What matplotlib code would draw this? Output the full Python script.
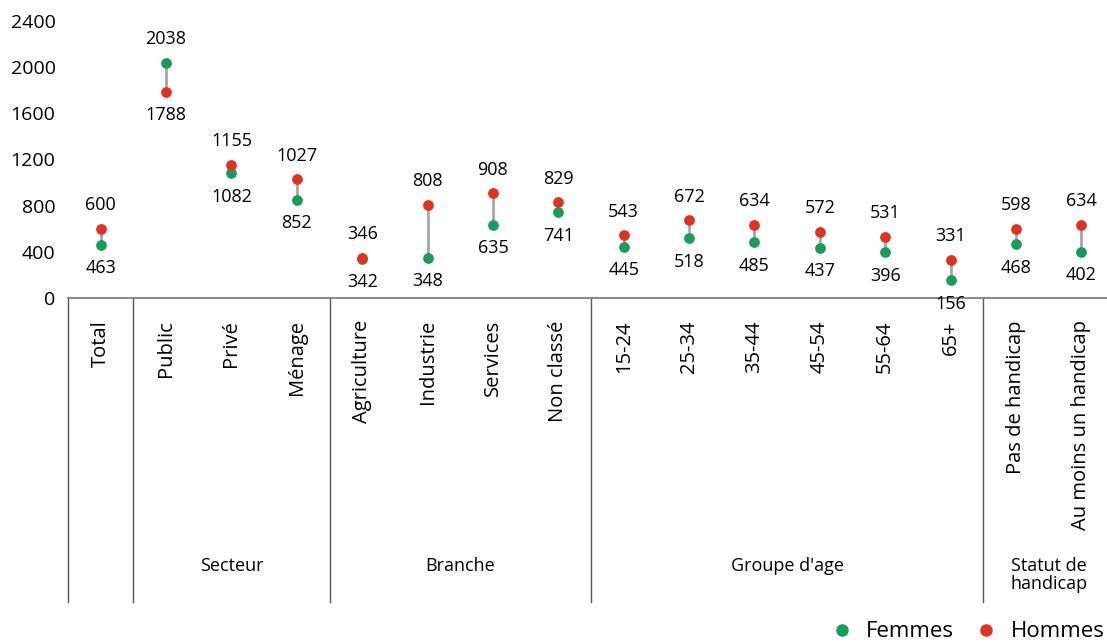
import matplotlib.pyplot as plt
import matplotlib.transforms as mtransforms
from matplotlib.lines import Line2D

plt.rcParams['font.family'] = ['Open Sans', 'DejaVu Sans']

categories = ['Total', 'Public', 'Privé', 'Ménage', 'Agriculture', 'Industrie',
              'Services', 'Non classé', '15-24', '25-34', '35-44', '45-54',
              '55-64', '65+', 'Pas de handicap', 'Au moins un handicap']
femmes = [463, 2038, 1082, 852, 342, 348, 635, 741, 445, 518, 485, 437, 396, 156, 468, 402]
hommes = [600, 1788, 1155, 1027, 346, 808, 908, 829, 543, 672, 634, 572, 531, 331, 598, 634]

groups = ['', 'Secteur', 'Branche', "Groupe d'age", 'Statut de\nhandicap']
group_sizes = [1, 3, 4, 6, 2]

green = '#1a9b5b'
red = '#e03222'

W, H = 1107, 643
fig = plt.figure(figsize=(W / 100, H / 100), dpi=100)
left, right, bottom, top = 68, 1114, 298, 21
ax = fig.add_axes([left / W, (H - bottom) / H, (right - left) / W, (bottom - top) / H])

x = list(range(len(categories)))
for i in x:
    ax.plot([i, i], [femmes[i], hommes[i]], color='#a6a6a6', lw=2, zorder=1)
ax.scatter(x, femmes, s=60, color=green, zorder=3, linewidths=0)
ax.scatter(x, hommes, s=60, color=red, zorder=3, linewidths=0)

# higher value labelled above, lower value below
for i in x:
    f, h = femmes[i], hommes[i]
    hi, lo = (f, h) if f > h else (h, f)
    ax.annotate(str(hi), (i, hi), xytext=(0, 17), textcoords='offset points',
                ha='center', va='center', fontsize=13)
    ax.annotate(str(lo), (i, lo), xytext=(0, -17), textcoords='offset points',
                ha='center', va='center', fontsize=13)

ax.set_xlim(-0.5, len(categories) - 0.5)
ax.set_ylim(0, 2400)
ax.set_yticks(range(0, 2401, 400))
ax.set_xticks(x)
ax.set_xticklabels(categories, rotation=90, fontsize=14.5)
ax.tick_params(axis='x', length=0, pad=16)
ax.tick_params(axis='y', length=0, pad=9, labelsize=14)

for s in ['top', 'right', 'left']:
    ax.spines[s].set_visible(False)
ax.spines['bottom'].set_color('#8c8c8c')
ax.spines['bottom'].set_linewidth(1.5)

trans = mtransforms.blended_transform_factory(ax.transData, ax.transAxes)
depth = -(602 - bottom) / (bottom - top)
pos = -0.5
edges = [pos]
for n in group_sizes:
    pos += n
    edges.append(pos)
for e in edges:
    ax.plot([e, e], [0, depth], color='#555555', lw=1, transform=trans, clip_on=False)

label_y = -(557 - bottom) / (bottom - top)
for g, a, b in zip(groups, edges[:-1], edges[1:]):
    if g:
        ax.text((a + b) / 2, label_y, g, transform=trans, ha='center', va='top',
                fontsize=13, linespacing=1.0)

handles = [Line2D([], [], marker='o', ls='', color=green, markersize=8),
           Line2D([], [], marker='o', ls='', color=red, markersize=8)]
fig.legend(handles, ['Femmes', 'Hommes'], loc='lower right', ncol=2,
           bbox_to_anchor=(1.016, -0.03), frameon=False, fontsize=16,
           handletextpad=0.1, columnspacing=0.45)

fig.savefig('out.png', dpi=100)
